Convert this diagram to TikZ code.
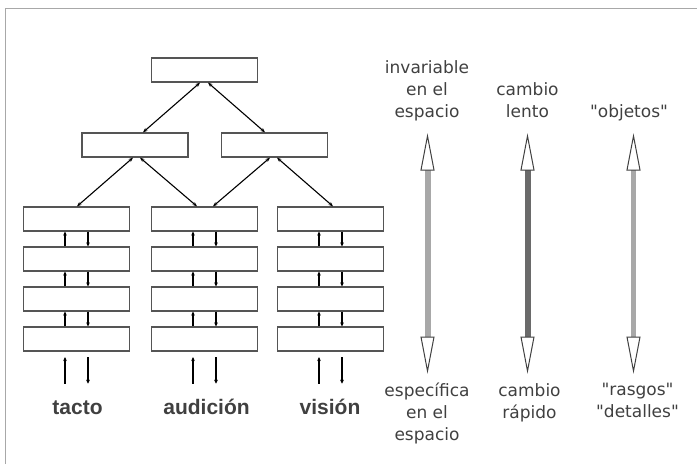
\documentclass[tikz,border=0pt]{standalone}
\usepackage{fontspec}
\setmainfont{DejaVu Sans}[Ligatures=TeXOff]
\newfontfamily\labfont{Liberation Sans}
\usetikzlibrary{arrows.meta,calc}
\definecolor{framegray}{HTML}{A8A8A8}
\definecolor{boxgray}{HTML}{555555}
\definecolor{txt}{HTML}{404040}
\definecolor{shaftlight}{HTML}{A8A8A8}
\definecolor{shaftdark}{HTML}{6A6A6A}
\begin{document}
\begin{tikzpicture}[x=1pt,y=-1pt,
 layer/.style={draw=boxgray, line width=1.3pt, minimum width=106pt, minimum height=24pt, inner sep=0pt, fill=white},
 link/.style={line width=1.1pt, {Stealth[length=4.5pt,width=3.5pt]}-{Stealth[length=4.5pt,width=3.5pt]}},
 small/.style={line width=1.2pt, -{Stealth[length=4pt,width=3.8pt]}},
 sense/.style={font=\labfont\bfseries\fontsize{21}{24}\selectfont, text=txt, anchor=base, inner sep=0pt},
 note/.style={font=\fontsize{17}{22}\selectfont, text=txt, align=center, anchor=base, inner sep=0pt},
 headstyle/.style={draw=black!75, fill=white, line width=1pt, line join=miter},
]
\useasboundingbox (0,0) rectangle (697,464);
\draw[framegray, line width=1.5pt] (5.5,464) -- (5.5,8.5) -- (697,8.5);

\node[layer] (t) at (204.5,70) {};
\node[layer] (ml) at (135,145) {};
\node[layer] (mr) at (274.5,145) {};
\foreach \col/\x in {a/76.5, b/204.5, c/330.5} {
  \foreach \r/\y in {1/219,2/259,3/299,4/339} {
    \node[layer] (\col\r) at (\x,\y) {};
  }
}

\draw[link] ($(t.south)+(-4.5,0)$) -- ($(ml.north)+(8,0)$);
\draw[link] ($(t.south)+(3.5,0)$) -- ($(mr.north)+(-9.5,0)$);
\draw[link] ($(ml.south)+(-2,0)$) -- ($(a1.north)+(0.5,0)$);
\draw[link] ($(ml.south)+(5,0)$) -- ($(b1.north)+(-7.5,0)$);
\draw[link] ($(mr.south)+(-4.5,0)$) -- ($(b1.north)+(8.5,0)$);
\draw[link] ($(mr.south)+(2.5,0)$) -- ($(c1.north)+(2.5,0)$);

\foreach \col in {a,b,c} {
  \foreach \r/\s in {1/2,2/3,3/4} {
    \draw[small] ($(\col\s.north)+(-11.5,0)$) -- ($(\col\r.south)+(-11.5,0)$);
    \draw[small] ($(\col\r.south)+(11.5,0)$) -- ($(\col\s.north)+(11.5,0)$);
  }
  \coordinate (\col-upfrom) at ($(\col4.south)+(-11.5,32)$);
  \coordinate (\col-upto) at ($(\col4.south)+(-11.5,5.5)$);
  \coordinate (\col-dnfrom) at ($(\col4.south)+(11.5,5.5)$);
  \coordinate (\col-dnto) at ($(\col4.south)+(11.5,32)$);
  \draw[small] (\col-upfrom) -- (\col-upto);
  \draw[small] (\col-dnfrom) -- (\col-dnto);
}

\node[sense] (tacto) at (77.5,414) {tacto};
\node[sense] (audicion) at (206.5,414) {audición};
\node[sense] (vision) at (330,414) {visión};

\foreach \n/\x/\c/\w in {p/427.5/shaftlight/6, q/527.5/shaftdark/6, r/633.5/shaftlight/5} {
  \coordinate (\n-top) at (\x,136);
  \coordinate (\n-bot) at (\x,371);
  \draw[line width=\w pt, \c] ($(\n-top)+(0,33)$) -- ($(\n-bot)+(0,-33)$);
  \draw[headstyle] (\n-top) -- ++(-6.5,34) -- ++(13,0) -- cycle;
  \draw[headstyle] (\n-bot) -- ++(-6.5,-34) -- ++(13,0) -- cycle;
}

\node[note] (inv) at (427,117) {invariable\\en el\\espacio};
\node[note] (lento) at (527.5,117) {cambio\\lento};
\node[note] (obj) at (629,117) {"objetos"};
\node[note] (esp) at (427,440) {específica\\en el\\espacio};
\node[note] (rap) at (529.5,418) {cambio\\rápido};
\node[note] (ras) at (637.5,417) {"rasgos"\\"detalles"};
\end{tikzpicture}
\end{document}
